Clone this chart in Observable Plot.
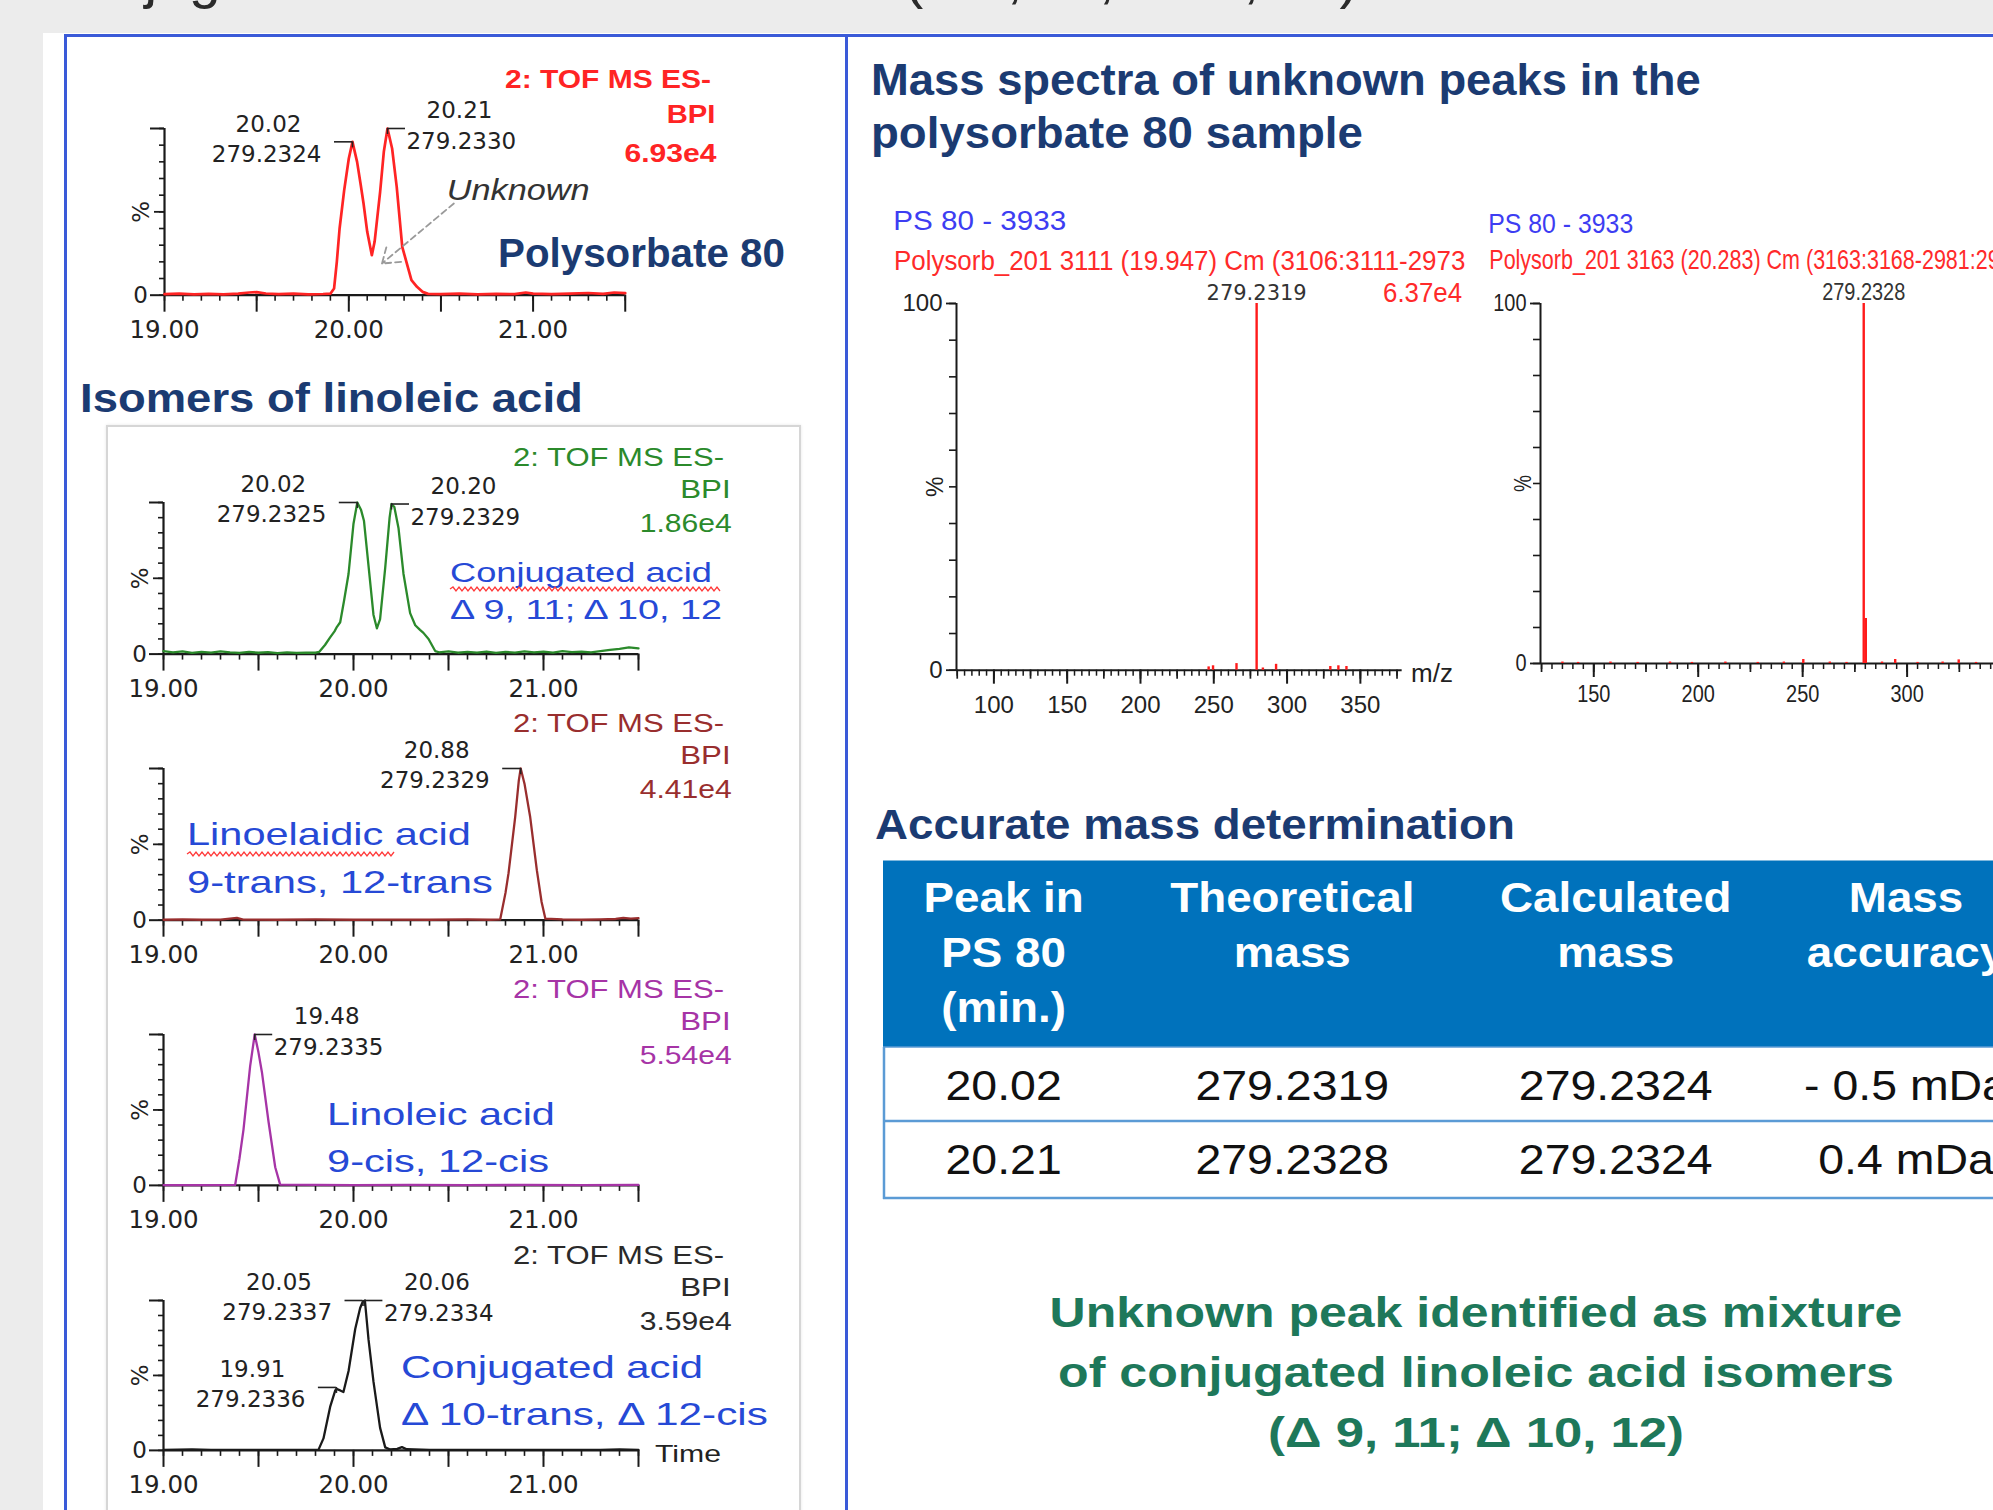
<!DOCTYPE html>
<html>
<head>
<meta charset="utf-8">
<script src="https://cdn.jsdelivr.net/npm/d3@7"></script>
<script src="https://cdn.jsdelivr.net/npm/@observablehq/plot@0.6"></script>
<style>
html, body { margin:0; padding:0; background:#ececec; overflow:hidden; }
#page { position:relative; width:1993px; height:1510px; overflow:hidden; background:#ececec; }
#page > svg { position:absolute; }
</style>
</head>
<body>
<div id="page"></div>
<script>
// ================= DATA =================
// Chromatograms (BPI, m/z 279.23): [retention time (min), relative intensity (%)]
const polysorbate80Trace = [[19.00,0.6],[19.08,0.9],[19.16,0.5],[19.24,0.8],[19.32,0.5],[19.40,0.9],[19.46,1.6],[19.50,1.8],[19.55,1.0],[19.62,0.6],[19.70,0.9],[19.78,0.5],[19.86,0.7],[19.90,0.9],[19.92,4],[19.935,20],[19.95,40],[19.975,63],[20.00,82],[20.02,92],[20.045,80],[20.065,66],[20.08,55],[20.10,38],[20.125,24],[20.14,32],[20.155,47],[20.17,62],[20.19,86],[20.21,100],[20.235,88],[20.26,65],[20.29,29],[20.32,17],[20.34,9],[20.37,5],[20.40,2],[20.43,0.8],[20.50,0.6],[20.60,0.9],[20.70,0.5],[20.80,0.8],[20.90,0.6],[20.96,1.6],[21.00,0.9],[21.10,0.6],[21.20,0.9],[21.30,1.3],[21.38,0.8],[21.44,1.6],[21.50,1.2]];
const conjugatedTrace = [[19.00,2],[19.05,1.2],[19.10,1.8],[19.15,0.8],[19.20,1.5],[19.25,1.0],[19.30,1.8],[19.35,1.2],[19.40,0.8],[19.45,1.5],[19.50,0.9],[19.55,1.3],[19.60,0.7],[19.65,1.2],[19.70,0.8],[19.75,1.0],[19.80,0.9],[19.82,1.5],[19.85,6],[19.877,11],[19.90,15],[19.913,18],[19.93,21],[19.95,35],[19.974,53],[20.00,86],[20.02,100],[20.04,95],[20.055,88],[20.08,57],[20.105,26],[20.123,17],[20.14,23],[20.167,57],[20.19,90],[20.20,99],[20.215,97],[20.237,83],[20.263,53],[20.298,27],[20.325,19],[20.35,16],[20.368,14],[20.395,10],[20.43,2],[20.45,1.2],[20.50,1.8],[20.55,0.9],[20.60,1.5],[20.65,1.0],[20.70,1.7],[20.75,0.8],[20.80,1.4],[20.85,1.0],[20.90,1.8],[20.95,1.2],[21.00,1.6],[21.05,1.0],[21.10,1.9],[21.15,1.3],[21.20,1.6],[21.25,1.2],[21.30,2.0],[21.35,2.8],[21.40,3.5],[21.45,4.5],[21.50,3.8]];
const linoelaidicTrace = [[19.00,0.3],[19.10,0.5],[19.20,0.3],[19.30,0.4],[19.386,1.5],[19.42,0.4],[19.60,0.3],[19.80,0.5],[20.00,0.3],[20.20,0.4],[20.40,0.3],[20.60,0.5],[20.72,0.3],[20.772,0.5],[20.80,18],[20.816,31],[20.851,68],[20.87,92],[20.88,100],[20.90,90],[20.93,68],[20.965,33],[20.99,12],[21.01,1],[21.10,0.5],[21.20,0.3],[21.30,0.5],[21.38,0.8],[21.42,1.5],[21.46,1.0],[21.50,1.4]];
const linoleicTrace = [[19.00,0.2],[19.20,0.2],[19.377,0.3],[19.40,18],[19.421,37],[19.456,79],[19.48,100],[19.50,88],[19.518,75],[19.553,42],[19.588,12],[19.614,0.5],[19.80,0.3],[20.00,0.2],[20.30,0.3],[20.60,0.2],[20.90,0.3],[21.20,0.2],[21.50,0.3]];
const conj10t12cTrace = [[19.00,0.3],[19.15,0.6],[19.25,0.3],[19.50,0.4],[19.70,0.3],[19.816,0.5],[19.842,8],[19.877,29],[19.904,40],[19.91,41],[19.93,40],[19.947,39],[19.974,53],[20.009,81],[20.035,95],[20.05,99.5],[20.06,100],[20.079,74],[20.105,46],[20.14,15],[20.167,2],[20.193,0.6],[20.23,1.0],[20.255,2.2],[20.28,0.8],[20.40,0.4],[20.70,0.3],[21.00,0.4],[21.30,0.3],[21.40,0.6],[21.50,0.4]];

const polysorbate80Peaks = [
  {t: 20.02, h: 92, time: "20.02", mass: "279.2324", side: "left"},
  {t: 20.21, h: 100, time: "20.21", mass: "279.2330", side: "right"}
];
const conjugatedPeaks = [
  {t: 20.02, h: 100, time: "20.02", mass: "279.2325", side: "left"},
  {t: 20.20, h: 99, time: "20.20", mass: "279.2329", side: "right"}
];
const linoelaidicPeaks = [{t: 20.88, h: 100, time: "20.88", mass: "279.2329", side: "left"}];
const linoleicPeaks = [{t: 19.48, h: 100, time: "19.48", mass: "279.2335", side: "right"}];
const conj10t12cPeaks = [
  {t: 19.91, h: 42, time: "19.91", mass: "279.2336", side: "left"},
  {t: 20.05, h: 100, time: "20.05", mass: "279.2337", side: "left"},
  {t: 20.06, h: 100, time: "20.06", mass: "279.2334", side: "right"}
];
const unknownPointer = [{t1: 20.57, h1: 55, t2: 20.18, h2: 19}];

const chromFunction = ["2: TOF MS ES-", "BPI"];
const chromIntensities = ["6.93e4", "1.86e4", "4.41e4", "5.54e4", "3.59e4"];
const chromDomain = [19, 21.5];
const chromTickLabels = [19, 20, 21];
const chromMajorTicks = [19, 19.5, 20, 20.5, 21, 21.5];
const chromMinorTicks = d3.range(190, 216).map(v => v / 10);
const pctMinorTicks = [0, 10, 20, 30, 40, 50, 60, 70, 80, 90, 100];
const compoundNames = [
  ["Conjugated acid", "Δ 9, 11; Δ 10, 12"],
  ["Linoelaidic acid", "9-trans, 12-trans"],
  ["Linoleic acid", "9-cis, 12-cis"],
  ["Conjugated acid", "Δ 10-trans, Δ 12-cis"]
];

// Mass spectra: [m/z, relative intensity (%)]
const spectrum1Bars = [[246.5,0.9],[249.5,1.2],[265.5,1.8],[279.2319,100],[283.5,0.6],[292.5,1.6],[329.5,1.0],[335,1.2],[340.5,1.0]];
const spectrum2Bars = [[135,0.4],[142.5,0.3],[158,0.4],[171,0.3],[186.5,0.4],[197,0.3],[213,0.4],[228.5,0.3],[241,0.4],[250.3,1.1],[263,0.4],[271,0.3],[279.2328,100],[280.2361,12.5],[288,0.4],[294.3,1.1],[305,0.3],[317,0.4],[324.7,1.0],[333,0.3]];
const spectrumSample = "PS 80 - 3933";
const spectrum1Header = "Polysorb_201 3111 (19.947) Cm (3106:3111-2973";
const spectrum2Header = "Polysorb_201 3163 (20.283) Cm (3163:3168-2981:29";
const spectrum1Intensity = "6.37e4";
const spectrum1TickLabels = [100, 150, 200, 250, 300, 350];
const spectrum2TickLabels = [150, 200, 250, 300, 350];

// Accurate mass table
const tableHeader = [["Peak in", "PS 80", "(min.)"], ["Theoretical", "mass"], ["Calculated", "mass"], ["Mass", "accuracy"]];
const peakRetention = ["20.02", "20.21"];
const theoreticalMass = ["279.2319", "279.2328"];
const calculatedMass = ["279.2324", "279.2324"];
const massAccuracy = ["- 0.5 mDa", "0.4 mDa"];

// ================= STYLE / LAYOUT =================
const RED = "#ff2424", GREEN = "#2b8a2b", BROWN = "#992e2e", PURPLE = "#a634a6", BLACK = "#1a1a1a";
const NAVY = "#1b3b72", ANNO = "#2649d6", FRAME = "#3a5ad8";
const page = document.getElementById("page");

function box(l, t, w, h, css) {
  const d = document.createElement("div");
  d.style.cssText = `position:absolute;left:${l}px;top:${t}px;width:${w}px;height:${h}px;box-sizing:border-box;${css || ""}`;
  page.appendChild(d);
}
box(43, 33, 1950, 1477, "background:#fff");
box(106, 425, 695, 1200, "border:2px solid #d6d6d6;box-shadow:0 0 3px rgba(0,0,0,0.10)");
box(64, 34, 1929, 3, "background:" + FRAME);
box(64, 34, 2.5, 1476, "background:" + FRAME);
box(845, 34, 2.5, 1476, "background:" + FRAME);

function place(svg, left, top) {
  svg.style.position = "absolute";
  svg.style.left = left + "px";
  svg.style.top = top + "px";
  page.appendChild(svg);
}

const chromLayout = [
  {trace: polysorbate80Trace, peaks: polysorbate80Peaks, color: RED, x0: 164.3, ppu: 184.3, top: 128.3, zero: 295, sw: 2.7, pointer: true},
  {trace: conjugatedTrace, peaks: conjugatedPeaks, color: GREEN, x0: 163.3, ppu: 190, top: 501.7, zero: 653.3},
  {trace: linoelaidicTrace, peaks: linoelaidicPeaks, color: BROWN, x0: 163.3, ppu: 190, top: 768.3, zero: 920},
  {trace: linoleicTrace, peaks: linoleicPeaks, color: PURPLE, x0: 163.3, ppu: 190, top: 1033.7, zero: 1184.6},
  {trace: conj10t12cTrace, peaks: conj10t12cPeaks, color: BLACK, x0: 163.3, ppu: 190, top: 1299.6, zero: 1449.5}
];

function chromatogram(L) {
  const ml = 80, mr = 30, mt = 70, mb = 70;
  const pw = (chromDomain[1] - chromDomain[0]) * L.ppu, ph = L.zero - L.top;
  const pts = L.trace.map(([t, v]) => ({t, v}));
  const left = L.peaks.filter(p => p.side === "left"), right = L.peaks.filter(p => p.side === "right");
  const br = 18 / L.ppu, vt = 6 / ph * 100;
  const lab = {fontFamily: "DejaVu Sans", fontSize: 23, fill: "#222", lineAnchor: "bottom"};
  const marks = [
    Plot.axisY({ticks: pctMinorTicks, tickSize: 5, tickFormat: () => "", strokeWidth: 1.6, label: null}),
    Plot.axisY({ticks: [50], tickSize: 10, tickFormat: () => "", strokeWidth: 1.8, label: null}),
    Plot.axisY({ticks: [0, 100], tickSize: 14, tickFormat: () => "", strokeWidth: 2, label: null}),
    Plot.axisX({ticks: chromMinorTicks, tickSize: 6, tickFormat: () => "", strokeWidth: 1.6, label: null}),
    Plot.axisX({ticks: chromMajorTicks, tickSize: 17, tickFormat: () => "", strokeWidth: 2, label: null}),
    Plot.ruleY([0], {strokeWidth: 2.2}),
    Plot.ruleX([chromDomain[0]], {strokeWidth: 2.2}),
    Plot.text(chromTickLabels, {x: d => d, y: () => 0, text: d => d.toFixed(2), dy: 43, lineAnchor: "bottom", fontSize: 24.5, fontFamily: "DejaVu Sans", fill: "#222"}),
    Plot.text(["0"], {x: () => chromDomain[0], y: () => 0, text: d => d, dx: -24, dy: 8, lineAnchor: "bottom", textAnchor: "middle", fontSize: 23, fontFamily: "DejaVu Sans", fill: "#222"}),
    Plot.text(["%"], {x: () => chromDomain[0], y: () => 50, text: d => d, dx: -23, rotate: -90, fontSize: 23, fontFamily: "DejaVu Sans", fill: "#222"}),
    Plot.line(pts, {x: "t", y: "v", stroke: L.color, strokeWidth: L.sw || 2.3}),
    Plot.ruleY(L.peaks, {y: "h", x1: "t", x2: d => d.t + (d.side === "left" ? -br : br), stroke: "#222", strokeWidth: 1.6}),
    Plot.ruleX(L.peaks, {x: "t", y1: "h", y2: d => d.h - vt, stroke: "#222", strokeWidth: 1.6}),
    Plot.text(left, {x: "t", y: "h", text: "mass", textAnchor: "end", dx: -31, dy: 20, ...lab}),
    Plot.text(left, {x: "t", y: "h", text: "time", textAnchor: "middle", dx: -84, dy: -10, ...lab}),
    Plot.text(right, {x: "t", y: "h", text: "mass", textAnchor: "start", dx: 19, dy: 21, ...lab}),
    Plot.text(right, {x: "t", y: "h", text: "time", textAnchor: "middle", dx: 72, dy: -10, ...lab})
  ];
  if (L.pointer) marks.push(Plot.arrow(unknownPointer, {x1: "t1", y1: "h1", x2: "t2", y2: "h2", stroke: "#9a9a9a", strokeWidth: 1.8, strokeDasharray: "6,4", headLength: 16, headAngle: 70}));
  const svg = Plot.plot({
    width: ml + pw + mr, height: mt + ph + mb,
    marginLeft: ml, marginRight: mr, marginTop: mt, marginBottom: mb,
    x: {domain: chromDomain, axis: null, label: null}, y: {domain: [0, 100], axis: null, label: null},
    style: {overflow: "visible", background: "transparent", color: "#1a1a1a", fontFamily: "DejaVu Sans", fontSize: "23px"},
    marks
  });
  place(svg, L.x0 - ml, L.top - mt);
}
chromLayout.forEach(chromatogram);

const spectrumLayout = [
  {bars: spectrum1Bars, labels: spectrum1TickLabels, domain: [74.5, 378.5], ppu: 1.466, x0: 956, top: 303.3, zero: 670, labelDy: 43, pctDx: -21, baseFont: "DejaVu Sans", baseSize: 21, sx: 1},
  {bars: spectrum2Bars, labels: spectrum2TickLabels, domain: [124.5, 378.5], ppu: 2.089, x0: 1540, top: 303.3, zero: 663.3, labelDy: 39, pctDx: -17, baseFont: "Liberation Sans", baseSize: 24, sx: 0.83}
];

function spectrum(S) {
  const ml = 70, mr = 20, mt = 50, mb = 70;
  const pw = (S.domain[1] - S.domain[0]) * S.ppu, ph = S.zero - S.top;
  const base = S.bars.reduce((a, b) => (b[1] > a[1] ? b : a));
  const lo = Math.ceil(S.domain[0] / 5) * 5;
  const minor = d3.range(lo, S.domain[1], 5), mid = minor.filter(v => v % 25 === 0);
  const svg = Plot.plot({
    width: ml + pw + mr, height: mt + ph + mb,
    marginLeft: ml, marginRight: mr, marginTop: mt, marginBottom: mb,
    x: {domain: S.domain, axis: null, label: null}, y: {domain: [0, 100], axis: null, label: null},
    style: {overflow: "visible", background: "transparent", color: "#1a1a1a", fontFamily: "Liberation Sans, Arial, sans-serif", fontSize: "24px"},
    marks: [
      Plot.axisY({ticks: pctMinorTicks, tickSize: 7, tickFormat: () => "", strokeWidth: 1.6, label: null}),
      Plot.axisY({ticks: [0, 100], tickSize: 10, tickPadding: 4, tickFormat: d => String(d), fontSize: 24, fill: "#222", strokeWidth: 1.8, label: null}),
      Plot.text(["%"], {x: () => S.domain[0], y: () => 50, text: d => d, dx: S.pctDx, rotate: -90, fontSize: 23, fill: "#222"}),
      Plot.axisX({ticks: minor, tickSize: 6, tickFormat: () => "", strokeWidth: 1.5, label: null}),
      Plot.axisX({ticks: mid, tickSize: 9, tickFormat: () => "", strokeWidth: 1.7, label: null}),
      Plot.axisX({ticks: S.labels, tickSize: 14, tickFormat: () => "", strokeWidth: 2, label: null}),
      Plot.text(S.labels, {x: d => d, y: () => 0, text: d => String(d), dy: S.labelDy, lineAnchor: "bottom", fontSize: 24, fill: "#222"}),
      Plot.ruleY([0], {strokeWidth: 2}),
      Plot.ruleX([S.domain[0]], {strokeWidth: 2}),
      Plot.ruleX(S.bars, {x: d => d[0], y1: () => 0, y2: d => d[1], stroke: "#ff1a1a", strokeWidth: 2.4}),
      Plot.text([base], {x: d => d[0], y: d => d[1], text: d => d[0].toFixed(4), dy: -3, lineAnchor: "bottom", fontSize: S.baseSize, fontFamily: S.baseFont, fill: "#333"})
    ]
  });
  if (S.sx !== 1) {
    d3.select(svg).selectAll("text").each(function () {
      const tr = this.getAttribute("transform");
      if (tr) this.setAttribute("transform", tr + ` scale(${S.sx},1)`);
    });
  }
  place(svg, S.x0 - ml, S.top - mt);
}
spectrumLayout.forEach(spectrum);

// ================= OVERLAY TEXT =================
const ov = d3.select(page).append("svg")
  .attr("width", 1993).attr("height", 1510)
  .style("left", "0px").style("top", "0px").style("pointer-events", "none").style("overflow", "hidden");

function T(x, y, s, o = {}) {
  const t = ov.append("text")
    .attr("transform", `translate(${x},${y})`)
    .attr("text-anchor", o.anchor || "start")
    .attr("font-family", o.family || "Liberation Sans, Arial, sans-serif")
    .attr("font-size", o.size || 26)
    .attr("font-weight", o.weight || "normal")
    .attr("fill", o.fill || "#222")
    .text(s);
  if (o.italic) t.attr("font-style", "italic");
  let sx = o.sx || 1;
  if (o.w) sx = o.w / t.node().getComputedTextLength();
  if (sx !== 1) t.attr("transform", `translate(${x},${y}) scale(${sx},1)`);
  return sx;
}
function wavy(x1, x2, y) {
  let d = `M${x1},${y}`;
  for (let x = x1, k = 0; x < x2; x += 3, k++) d += ` L${x + 3},${y + (k % 2 ? 2 : -2)}`;
  ov.append("path").attr("d", d).attr("fill", "none").attr("stroke", "#ff3b3b").attr("stroke-width", 1.3);
}

// slide title (cut off at the top)
T(40, -3, "Conjugated linoleic acid isomers", {size: 57, fill: "#2b2b2b"});
T(904, -3, "(Δ 9, 11; Δ 10, 12)", {size: 57, w: 455, fill: "#2b2b2b"});

// chromatogram function labels
const chromColors = [RED, GREEN, BROWN, PURPLE, "#2a2a2a"];
chromLayout.forEach((L, i) => {
  const c = chromColors[i];
  if (i === 0) {
    T(711, 88.3, chromFunction[0], {anchor: "end", size: 25, weight: "bold", w: 206, fill: c});
    T(715.4, 123.3, chromFunction[1], {anchor: "end", size: 25, weight: "bold", w: 48.7, fill: c});
    T(716.5, 161.7, chromIntensities[0], {anchor: "end", size: 25, weight: "bold", w: 92, fill: c});
  } else {
    T(724, L.top - 36, chromFunction[0], {anchor: "end", size: 25, w: 211, fill: c});
    T(730.6, L.top - 4, chromFunction[1], {anchor: "end", size: 25, w: 50.4, fill: c});
    T(731.7, L.top + 30, chromIntensities[i], {anchor: "end", size: 25, w: 92, fill: c});
  }
});
T(446.7, 200, "Unknown", {size: 30, italic: true, w: 143, fill: "#333"});
T(498, 266.7, "Polysorbate 80", {size: 40, weight: "bold", w: 287, fill: NAVY});
T(80, 411.7, "Isomers of linoleic acid", {size: 40, weight: "bold", w: 503, fill: NAVY});

const nameLayout = [
  {x: 450, y: [582, 619], size: 28, w: [262, 272], wavy: [450, 718, 589]},
  {x: 187, y: [845, 893], size: 32, w: [284, 306], wavy: [187, 392, 854]},
  {x: 327, y: [1125, 1172], size: 32, w: [228, 222]},
  {x: 401, y: [1378, 1425], size: 32, w: [302, 367]}
];
nameLayout.forEach((n, i) => {
  compoundNames[i].forEach((s, j) => T(n.x, n.y[j], s, {size: n.size, w: n.w[j], fill: ANNO}));
  if (n.wavy) wavy(...n.wavy);
});
T(655, 1462, "Time", {size: 23, w: 66, fill: "#222"});

// right panel
T(871, 94.5, "Mass spectra of unknown peaks in the", {size: 44, weight: "bold", w: 830, fill: NAVY});
T(871, 148, "polysorbate 80 sample", {size: 44, weight: "bold", w: 492, fill: NAVY});
T(893.3, 230, spectrumSample, {size: 28, w: 173, fill: "#3d3df2"});
const s1 = T(894, 270, spectrum1Header, {size: 28, w: 571.5, fill: "#ff2a2a"});
T(1462, 302, spectrum1Intensity, {anchor: "end", size: 27, w: 79, fill: "#ff2a2a"});
T(1488.3, 233.3, spectrumSample, {size: 28, w: 145, fill: "#3d3df2"});
T(1489.3, 269.3, spectrum2Header, {size: 28, sx: s1 * 0.83, fill: "#ff2a2a"});
T(1411, 682, "m/z", {size: 25, w: 42, fill: "#222"});

// table
T(875, 839, "Accurate mass determination", {size: 42, weight: "bold", w: 640, fill: NAVY});
const tx = 883, colC = [1003.6, 1292.3, 1615.7, 1906];
ov.append("rect").attr("x", tx).attr("y", 860.5).attr("width", 1200).attr("height", 186.5).attr("fill", "#0072bc");
ov.append("rect").attr("x", tx).attr("y", 1047).attr("width", 1200).attr("height", 151).attr("fill", "#fff");
[1047, 1121, 1198].forEach(y => ov.append("line").attr("x1", tx).attr("x2", 2100).attr("y1", y).attr("y2", y).attr("stroke", "#5b9bd5").attr("stroke-width", y === 1047 ? 1.5 : 2.5));
ov.append("line").attr("x1", tx + 1).attr("x2", tx + 1).attr("y1", 1047).attr("y2", 1199).attr("stroke", "#5b9bd5").attr("stroke-width", 2.5);
const headY = [912, 967, 1022];
tableHeader.forEach((lines, c) => lines.forEach((s, j) => T(colC[c], headY[j], s, {anchor: "middle", size: 42, weight: "bold", fill: "#fff", sx: 1.09})));
const rowY = [1099.7, 1174];
[peakRetention, theoreticalMass, calculatedMass, massAccuracy].forEach((col, c) =>
  col.forEach((s, r) => T(colC[c], rowY[r], s, {anchor: "middle", size: 43, fill: "#111", sx: 1.08})));

// conclusion
const concl = ["Unknown peak identified as mixture", "of conjugated linoleic acid isomers", "(Δ 9, 11; Δ 10, 12)"];
const conclW = [853, 836, 416], conclY = [1327, 1387, 1447];
concl.forEach((s, i) => T(1476, conclY[i], s, {anchor: "middle", size: 43, weight: "bold", w: conclW[i], fill: "#1e785a"}));
</script>
</body>
</html>
